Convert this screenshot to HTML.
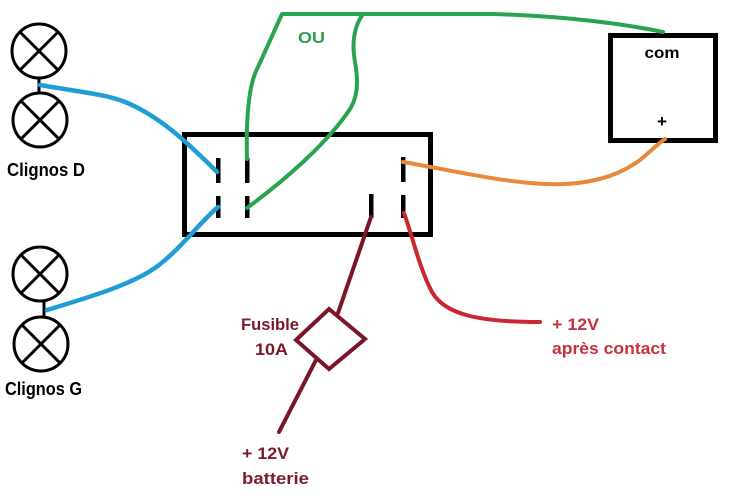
<!DOCTYPE html>
<html>
<head>
<meta charset="utf-8">
<style>
html,body{margin:0;padding:0;background:#fff;}
svg{display:block;}
text{font-family:"Liberation Sans",Arial,sans-serif;font-weight:bold;}
</style>
</head>
<body>
<svg width="730" height="499" viewBox="0 0 730 499" xmlns="http://www.w3.org/2000/svg">
<rect width="730" height="499" fill="#fff"/>

<!-- Lamps -->
<g stroke="#000" stroke-width="3" fill="none">
  <circle cx="39" cy="51" r="27"/>
  <line x1="20" y1="32" x2="58" y2="70"/>
  <line x1="58" y1="32" x2="20" y2="70"/>
  <line x1="39" y1="78" x2="39" y2="93"/>
  <circle cx="40" cy="120" r="27"/>
  <line x1="21" y1="101" x2="59" y2="139"/>
  <line x1="59" y1="101" x2="21" y2="139"/>

  <circle cx="40" cy="274" r="27"/>
  <line x1="21" y1="255" x2="59" y2="293"/>
  <line x1="59" y1="255" x2="21" y2="293"/>
  <line x1="44" y1="300" x2="44" y2="317"/>
  <circle cx="41" cy="344" r="27"/>
  <line x1="22" y1="325" x2="60" y2="363"/>
  <line x1="60" y1="325" x2="22" y2="363"/>
</g>

<!-- Main box -->
<rect x="184.5" y="134.5" width="246" height="100" fill="none" stroke="#000" stroke-width="5"/>
<g fill="#000">
  <rect x="216" y="158" width="4.5" height="25"/>
  <rect x="216" y="196" width="4.5" height="22"/>
  <rect x="245" y="158" width="4.5" height="25"/>
  <rect x="245" y="196" width="4.5" height="22"/>
  <rect x="401" y="157" width="4.5" height="25"/>
  <rect x="401" y="195" width="4.5" height="23"/>
  <rect x="369" y="194" width="4.5" height="24"/>
</g>

<!-- com box -->
<rect x="610.5" y="35.5" width="105" height="105" fill="none" stroke="#000" stroke-width="5"/>
<text x="662" y="58" font-size="16" text-anchor="middle" fill="#000" textLength="35" lengthAdjust="spacingAndGlyphs">com</text>
<text x="662" y="127" font-size="17" text-anchor="middle" fill="#000">+</text>

<!-- Blue wires -->
<g stroke="#1e9dd8" stroke-width="4.5" fill="none" stroke-linecap="round">
  <path d="M40,85 C80,92 105,94 125,102 C160,116 190,145 217,172"/>
  <path d="M47,310 C90,297 130,285 155,268 C180,250 200,222 218,207"/>
</g>

<!-- Green wires -->
<g stroke="#2aa34f" stroke-width="4" fill="none" stroke-linecap="round" stroke-linejoin="round">
  <path d="M247,159 C246,120 248,85 258,67 L282,14 H493 C560,16 620,23 663,32"/>
  <path d="M363,14 C353,28 352,45 355,62 C359,85 357,100 348,112 C325,145 285,180 247,208"/>
</g>
<text x="298" y="43" font-size="16" fill="#2e9e50" textLength="27" lengthAdjust="spacingAndGlyphs">OU</text>

<!-- Orange wire -->
<path d="M403,162 C450,170 500,182 545,184 C590,186 620,175 640,160 C652,150 660,142 665,139" stroke="#e8883a" stroke-width="4" fill="none" stroke-linecap="round"/>

<!-- Red wire -->
<path d="M404,213 C412,235 420,270 432,292 C445,315 480,322 540,322" stroke="#cc2630" stroke-width="4" fill="none" stroke-linecap="round"/>

<!-- Dark red wire + fuse -->
<g stroke="#7b1427" stroke-width="4" fill="none" stroke-linecap="round" stroke-linejoin="miter">
  <path d="M371,217 L338,313"/>
  <polygon points="329,309 365,339 329,369 296,340"/>
  <path d="M316,360 L279,432"/>
</g>

<!-- Labels -->
<text x="7" y="176" font-size="18" fill="#000" textLength="78" lengthAdjust="spacingAndGlyphs">Clignos D</text>
<text x="5" y="395" font-size="18" fill="#000" textLength="77" lengthAdjust="spacingAndGlyphs">Clignos G</text>

<text x="241" y="330" font-size="17" fill="#7a1a2a" textLength="58" lengthAdjust="spacingAndGlyphs">Fusible</text>
<text x="255" y="355" font-size="17" fill="#7a1a2a" textLength="33" lengthAdjust="spacingAndGlyphs">10A</text>
<text x="242" y="459" font-size="17" fill="#7a1a2a" textLength="47" lengthAdjust="spacingAndGlyphs">+ 12V</text>
<text x="242" y="484" font-size="17" fill="#7a1a2a" textLength="67" lengthAdjust="spacingAndGlyphs">batterie</text>

<text x="552" y="330" font-size="17" fill="#c8303a" textLength="47" lengthAdjust="spacingAndGlyphs">+ 12V</text>
<text x="552" y="354" font-size="17" fill="#c8303a" textLength="114" lengthAdjust="spacingAndGlyphs">après contact</text>
</svg>
</body>
</html>
